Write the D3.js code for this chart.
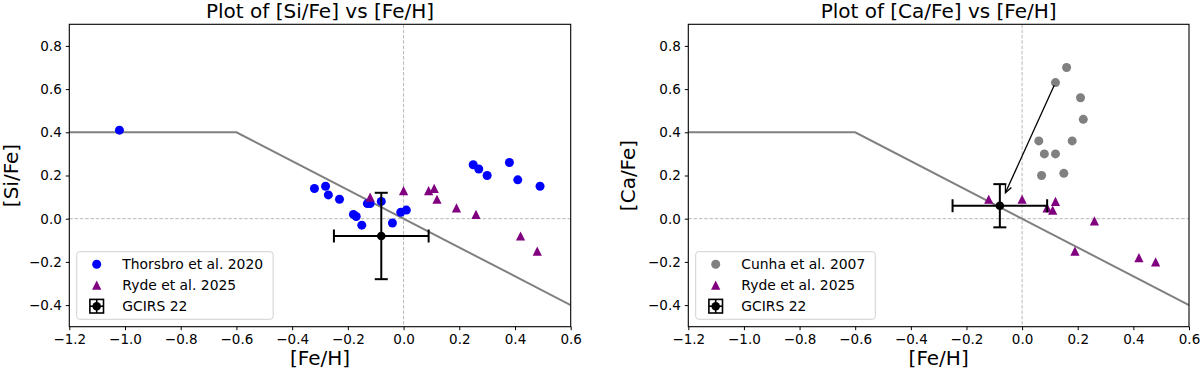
<!DOCTYPE html>
<html>
<head>
<meta charset="utf-8">
<script src="https://cdn.jsdelivr.net/npm/d3@7"></script>
<style>
  html, body { margin: 0; padding: 0; background: #fff; }
  svg { display: block; font-family: "DejaVu Sans", sans-serif; }
</style>
</head>
<body>
<svg id="chart" width="1200" height="376"></svg>
<script>
// ---------------- data ----------------
const xTicks = [-1.2, -1.0, -0.8, -0.6, -0.4, -0.2, 0.0, 0.2, 0.4, 0.6];
const yTicks = [-0.4, -0.2, 0.0, 0.2, 0.4, 0.6, 0.8];

const thorsbroFeH = [-1.02, -0.32, -0.28, -0.27, -0.23, -0.18, -0.17, -0.15, -0.13, -0.12, -0.08, -0.04, -0.01, 0.01, 0.25, 0.27, 0.30, 0.38, 0.41, 0.49];
const thorsbroSiFe = [0.41, 0.14, 0.15, 0.11, 0.09, 0.02, 0.01, -0.03, 0.07, 0.07, 0.08, -0.02, 0.03, 0.04, 0.25, 0.23, 0.20, 0.26, 0.18, 0.15];

const rydeFeH = [-0.12, 0.00, 0.09, 0.11, 0.12, 0.19, 0.26, 0.42, 0.48];
const rydeSiFe = [0.10, 0.13, 0.13, 0.14, 0.09, 0.05, 0.02, -0.08, -0.15];
const rydeCaFe = [0.09, 0.09, 0.05, 0.04, 0.08, -0.15, -0.01, -0.18, -0.20];

const cunhaFeH = [0.16, 0.12, 0.21, 0.22, 0.06, 0.18, 0.08, 0.12, 0.07, 0.15];
const cunhaCaFe = [0.70, 0.63, 0.56, 0.46, 0.36, 0.36, 0.30, 0.30, 0.20, 0.21];

const gcirsFeH = -0.08, gcirsFeHErr = 0.17;
const gcirsSiFe = -0.08, gcirsSiFeErr = 0.20;
const gcirsCaFe = 0.06, gcirsCaFeErr = 0.10;

const modelFeH = [-1.2, -0.6, 0.6];
const modelXFe = [0.4, 0.4, -0.4];

const arrowFrom = [0.12, 0.63];
const arrowTo = [-0.06, 0.12];

// ---------------- layout ----------------
const svg = d3.select("#chart");
const Y0 = 24.3, Y1 = 326.7;
const fmt = d3.format(".1f");

function triPath(s) {
  return `M0,${-s}L${-s},${s}L${s},${s}Z`;
}

function drawPanel(opt) {
  const x = d3.scaleLinear().domain([-1.2, 0.6]).range([opt.x0, opt.x1]);
  const y = d3.scaleLinear().domain([-0.5, 0.9]).range([Y1, Y0]);
  const g = svg.append("g");

  const clipId = "clip" + opt.id;
  svg.append("clipPath").attr("id", clipId)
    .append("rect").attr("x", opt.x0).attr("y", Y0)
    .attr("width", opt.x1 - opt.x0).attr("height", Y1 - Y0);
  const plot = g.append("g").attr("clip-path", `url(#${clipId})`);

  // reference dashed lines
  plot.append("line").attr("x1", x(0)).attr("x2", x(0)).attr("y1", Y0).attr("y2", Y1)
    .attr("stroke", "#b0b0b0").attr("stroke-width", 0.9).attr("stroke-dasharray", "3.5,1.8");
  plot.append("line").attr("x1", opt.x0).attr("x2", opt.x1).attr("y1", y(0)).attr("y2", y(0))
    .attr("stroke", "#b0b0b0").attr("stroke-width", 0.9).attr("stroke-dasharray", "3.5,1.8");

  // model line
  plot.append("path")
    .attr("d", d3.line().x((d, i) => x(modelFeH[i])).y((d, i) => y(modelXFe[i]))(modelFeH))
    .attr("fill", "none").attr("stroke", "#808080").attr("stroke-width", 2);

  // first series
  plot.selectAll(".s1").data(opt.s1x).enter().append("circle")
    .attr("cx", d => x(d)).attr("cy", (d, i) => y(opt.s1y[i])).attr("r", 4.5)
    .attr("fill", opt.s1color);

  // ryde triangles
  plot.selectAll(".s2").data(rydeFeH).enter().append("path")
    .attr("d", triPath(4.6))
    .attr("transform", (d, i) => `translate(${x(d)},${y(opt.rydeY[i])})`)
    .attr("fill", "#800080");

  // arrow
  if (opt.arrow) {
    const ax1 = x(arrowFrom[0]), ay1 = y(arrowFrom[1]);
    const ax2 = x(arrowTo[0]), ay2 = y(arrowTo[1]);
    const ang = Math.atan2(ay2 - ay1, ax2 - ax1);
    const sx = ax1 + Math.cos(ang) * 3, sy = ay1 + Math.sin(ang) * 3;
    g.append("line").attr("x1", sx).attr("y1", sy).attr("x2", ax2).attr("y2", ay2)
      .attr("stroke", "#000").attr("stroke-width", 1.3);
    const hl = 8, ha = 0.42;
    g.append("path")
      .attr("d", `M${ax2 - hl * Math.cos(ang - ha)},${ay2 - hl * Math.sin(ang - ha)}L${ax2},${ay2}L${ax2 - hl * Math.cos(ang + ha)},${ay2 - hl * Math.sin(ang + ha)}`)
      .attr("fill", "none").attr("stroke", "#000").attr("stroke-width", 1.3);
  }

  // error bar
  const cx = x(gcirsFeH), cy = y(opt.gY);
  const cap = 6.5;
  const eb = g.append("g").attr("stroke", "#000").attr("stroke-width", 2).attr("fill", "none");
  eb.append("line").attr("x1", x(gcirsFeH - gcirsFeHErr)).attr("x2", x(gcirsFeH + gcirsFeHErr)).attr("y1", cy).attr("y2", cy);
  eb.append("line").attr("x1", cx).attr("x2", cx).attr("y1", y(opt.gY - opt.gErr)).attr("y2", y(opt.gY + opt.gErr));
  [gcirsFeH - gcirsFeHErr, gcirsFeH + gcirsFeHErr].forEach(v => {
    eb.append("line").attr("x1", x(v)).attr("x2", x(v)).attr("y1", cy - cap).attr("y2", cy + cap);
  });
  [opt.gY - opt.gErr, opt.gY + opt.gErr].forEach(v => {
    eb.append("line").attr("x1", cx - cap).attr("x2", cx + cap).attr("y1", y(v)).attr("y2", y(v));
  });
  g.append("circle").attr("cx", cx).attr("cy", cy).attr("r", 4.3).attr("fill", "#000");

  // axes
  const xa = g.append("g").attr("transform", `translate(0,${Y1})`)
    .call(d3.axisBottom(x).tickValues(xTicks).tickSize(3.5).tickPadding(4).tickFormat(fmt));
  const ya = g.append("g").attr("transform", `translate(${opt.x0},0)`)
    .call(d3.axisLeft(y).tickValues(yTicks).tickSize(3.5).tickPadding(4).tickFormat(fmt));
  [xa, ya].forEach(a => {
    a.select(".domain").remove();
    a.selectAll("line").attr("stroke", "#000").attr("stroke-width", 1);
    a.selectAll("text").attr("font-size", 13.5).attr("fill", "#000")
      .attr("font-family", "DejaVu Sans");
  });
  g.append("rect").attr("x", opt.x0).attr("y", Y0).attr("width", opt.x1 - opt.x0).attr("height", Y1 - Y0)
    .attr("fill", "none").attr("stroke", "#000").attr("stroke-width", 1.1);

  // titles
  const mid = (opt.x0 + opt.x1) / 2;
  g.append("text").attr("x", mid).attr("y", 17.5).attr("text-anchor", "middle")
    .attr("font-size", 20).text(opt.title);
  g.append("text").attr("x", mid).attr("y", 365).attr("text-anchor", "middle")
    .attr("font-size", 20).text("[Fe/H]");
  g.append("text").attr("transform", `translate(${opt.ylx},${(Y0 + Y1) / 2}) rotate(-90)`)
    .attr("text-anchor", "middle").attr("dy", "0.35em")
    .attr("font-size", 20).text(opt.ylabel);

  // legend
  const lx = opt.x0 + 7.4, ly = 251.7;
  const lg = g.append("g");
  const box = lg.append("rect").attr("x", lx).attr("y", ly).attr("height", 67.6)
    .attr("rx", 3).attr("fill", "#fff").attr("fill-opacity", 0.8)
    .attr("stroke", "#d0d0d0").attr("stroke-width", 1);
  const rows = [264.2, 285.2, 306.2];
  const mx = lx + 20, tx = lx + 45.6;
  lg.append("circle").attr("cx", mx).attr("cy", rows[0]).attr("r", 4.5).attr("fill", opt.s1color);
  lg.append("path").attr("d", triPath(4.6)).attr("transform", `translate(${mx},${rows[1]})`).attr("fill", "#800080");
  const lh = 6.8;
  const lgb = lg.append("g").attr("stroke", "#000").attr("stroke-width", 1.6).attr("fill", "none");
  lgb.append("line").attr("x1", mx - lh).attr("x2", mx + lh).attr("y1", rows[2]).attr("y2", rows[2]);
  lgb.append("line").attr("x1", mx).attr("x2", mx).attr("y1", rows[2] - lh).attr("y2", rows[2] + lh);
  lgb.append("rect").attr("x", mx - lh).attr("y", rows[2] - lh).attr("width", 2 * lh).attr("height", 2 * lh);
  lg.append("circle").attr("cx", mx).attr("cy", rows[2]).attr("r", 4.3).attr("fill", "#000");
  const labels = [opt.s1label, "Ryde et al. 2025", "GCIRS 22"];
  let maxW = 0;
  labels.forEach((t, i) => {
    const te = lg.append("text").attr("x", tx).attr("y", rows[i]).attr("dy", "0.36em")
      .attr("font-size", 13.9).text(t);
    maxW = Math.max(maxW, te.node().getComputedTextLength());
  });
  box.attr("width", tx - lx + maxW + 10);
}

drawPanel({
  id: "L", x0: 69.3, x1: 570.7, title: "Plot of [Si/Fe] vs [Fe/H]", ylabel: "[Si/Fe]", ylx: 11,
  s1x: thorsbroFeH, s1y: thorsbroSiFe, s1color: "#0000ff", s1label: "Thorsbro et al. 2020",
  rydeY: rydeSiFe, gY: gcirsSiFe, gErr: gcirsSiFeErr, arrow: false
});
drawPanel({
  id: "R", x0: 688.3, x1: 1189, title: "Plot of [Ca/Fe] vs [Fe/H]", ylabel: "[Ca/Fe]", ylx: 628,
  s1x: cunhaFeH, s1y: cunhaCaFe, s1color: "#808080", s1label: "Cunha et al. 2007",
  rydeY: rydeCaFe, gY: gcirsCaFe, gErr: gcirsCaFeErr, arrow: true
});
</script>
</body>
</html>
